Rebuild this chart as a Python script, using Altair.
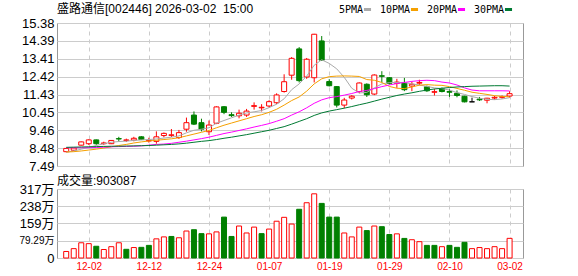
import altair as alt
import pandas as pd

# ---------------- data ----------------
dates = ["11-27", "11-28", "12-01", "12-02", "12-03", "12-04", "12-05", "12-08", "12-09", "12-10",
         "12-11", "12-12", "12-15", "12-16", "12-17", "12-18", "12-19", "12-22", "12-23", "12-24",
         "12-25", "12-26", "12-29", "12-30", "12-31", "01-05", "01-06", "01-07", "01-08", "01-09",
         "01-12", "01-13", "01-14", "01-15", "01-16", "01-19", "01-20", "01-21", "01-22", "01-23",
         "01-26", "01-27", "01-28", "01-29", "01-30", "02-02", "02-03", "02-04", "02-05", "02-06",
         "02-09", "02-10", "02-11", "02-12", "02-13", "02-24", "02-25", "02-26", "02-27", "03-02"]

opens = [8.28, 8.36, 8.64, 8.72, 8.93, 8.72, 8.72, 9.00, 8.90, 8.92,
         9.10, 8.87, 8.85, 9.17, 9.18, 9.06, 9.52, 10.30, 9.88, 9.38,
         9.85, 10.76, 10.32, 10.26, 10.30, 10.78, 10.70, 10.80, 10.98, 11.60,
         12.50, 13.95, 12.40, 12.36, 14.39, 12.15, 11.87, 10.85, 11.24, 11.60,
         12.00, 11.46, 12.47, 12.36, 12.05, 12.06, 11.90, 12.06, 11.86, 11.56,
         11.75, 11.60, 11.50, 11.34, 11.03, 11.18, 11.12, 11.24, 11.28, 11.35]
highs = [8.48, 8.50, 8.84, 8.96, 8.95, 8.83, 8.92, 9.10, 9.00, 9.10,
         9.14, 9.05, 9.40, 9.34, 9.53, 9.48, 10.16, 10.50, 10.10, 10.00,
         10.78, 10.80, 10.45, 10.60, 10.64, 11.00, 10.90, 11.12, 11.50, 12.55,
         13.50, 14.05, 13.45, 14.78, 14.66, 12.28, 11.90, 11.25, 11.40, 12.10,
         12.05, 12.55, 12.72, 12.40, 12.30, 12.35, 12.15, 12.25, 11.93, 11.75,
         11.82, 11.73, 11.66, 11.36, 11.26, 11.30, 11.25, 11.35, 11.38, 11.62]
lows = [8.25, 8.32, 8.62, 8.65, 8.66, 8.66, 8.70, 8.84, 8.82, 8.85,
        8.92, 8.78, 8.72, 9.07, 9.09, 8.98, 9.38, 9.75, 9.40, 9.20,
        9.80, 10.35, 10.20, 10.12, 10.20, 10.60, 10.50, 10.72, 10.90, 11.54,
        12.25, 12.10, 12.30, 12.10, 13.30, 11.88, 10.72, 10.68, 11.16, 11.50,
        11.30, 11.40, 12.10, 11.98, 11.80, 11.62, 11.62, 11.95, 11.58, 11.38,
        11.55, 11.30, 11.28, 11.00, 11.03, 11.08, 10.95, 11.15, 11.20, 11.26]
closes = [8.46, 8.48, 8.82, 8.93, 8.72, 8.76, 8.90, 8.98, 8.93, 9.02,
          8.95, 8.90, 9.10, 9.29, 9.21, 9.33, 9.88, 9.80, 9.52, 9.75,
          10.75, 10.45, 10.27, 10.40, 10.52, 10.82, 10.73, 11.04, 11.41, 12.14,
          13.43, 12.20, 13.38, 14.76, 13.33, 11.92, 10.85, 11.13, 11.34, 12.07,
          11.42, 12.51, 12.44, 12.05, 12.12, 11.70, 12.00, 12.10, 11.64, 11.59,
          11.60, 11.56, 11.38, 11.03, 11.03, 11.14, 11.23, 11.28, 11.31, 11.48]

# volume in 万
volumes = [30, 43, 70, 66, 54, 39, 52, 70, 40, 48,
           49, 58, 88, 97, 99, 93, 124, 130, 112, 111,
           120, 188, 99, 147, 115, 142, 112, 133, 169, 187,
           156, 224, 254, 295, 251, 188, 188, 115, 97, 142,
           126, 147, 144, 108, 111, 90, 84, 75, 58, 58,
           52, 58, 49, 72, 43, 48, 43, 52, 43, 90.31]
vol_dir = ["up", "up", "up", "up", "down", "up", "up", "up", "down", "up",
           "down", "down", "up", "up", "down", "up", "up", "down", "down", "up",
           "up", "down", "down", "up", "up", "up", "down", "up", "up", "up",
           "up", "down", "up", "up", "down", "down", "down", "up", "up", "up",
           "down", "up", "down", "down", "up", "down", "up", "up", "down", "down",
           "up", "down", "down", "down", "up", "up", "up", "up", "up", "up"]

ma5 = [8.25, 8.32, 8.42, 8.52, 8.62, 8.72, 8.80, 8.84, 8.86, 8.90,
       8.93, 8.95, 8.98, 9.03, 9.08, 9.15, 9.32, 9.46, 9.52, 9.60,
       9.85, 10.00, 10.15, 10.30, 10.42, 10.48, 10.55, 10.71, 10.90, 11.20,
       11.70, 12.02, 12.45, 13.05, 13.35, 13.15, 12.85, 12.38, 11.78, 11.52,
       11.55, 11.80, 12.02, 12.09, 12.10, 12.10, 12.02, 11.96, 11.88, 11.80,
       11.76, 11.68, 11.54, 11.44, 11.32, 11.23, 11.17, 11.15, 11.19, 11.26]
ma10 = [8.26, 8.28, 8.32, 8.37, 8.42, 8.48, 8.55, 8.62, 8.68, 8.76,
        8.82, 8.87, 8.91, 8.95, 8.99, 9.05, 9.15, 9.25, 9.35, 9.45,
        9.60, 9.74, 9.86, 9.98, 10.10, 10.22, 10.32, 10.45, 10.62, 10.85,
        11.10, 11.30, 11.62, 12.02, 12.30, 12.42, 12.45, 12.46, 12.45, 12.43,
        12.26, 12.22, 12.10, 11.88, 11.78, 11.76, 11.85, 11.95, 11.98, 11.95,
        11.94, 11.87, 11.77, 11.67, 11.56, 11.50, 11.44, 11.37, 11.33, 11.31]
ma20 = [8.50, 8.50, 8.50, 8.50, 8.51, 8.53, 8.55, 8.56, 8.57, 8.58,
        8.60, 8.64, 8.68, 8.70, 8.74, 8.80, 8.86, 8.93, 9.00, 9.08,
        9.18, 9.28, 9.36, 9.45, 9.54, 9.64, 9.73, 9.83, 9.96, 10.10,
        10.30, 10.48, 10.70, 10.95, 11.14, 11.26, 11.32, 11.40, 11.49, 11.60,
        11.66, 11.76, 11.87, 11.96, 12.04, 12.10, 12.16, 12.20, 12.22, 12.20,
        12.12, 12.07, 11.96, 11.80, 11.68, 11.64, 11.64, 11.64, 11.64, 11.63]
ma30 = [8.52, 8.53, 8.54, 8.55, 8.56, 8.57, 8.58, 8.58, 8.59, 8.60,
        8.61, 8.62, 8.64, 8.66, 8.68, 8.71, 8.75, 8.80, 8.85, 8.89,
        8.95, 9.02, 9.08, 9.15, 9.22, 9.30, 9.38, 9.46, 9.56, 9.66,
        9.80, 9.95, 10.10, 10.28, 10.42, 10.52, 10.60, 10.68, 10.77, 10.87,
        10.96, 11.07, 11.18, 11.28, 11.38, 11.46, 11.53, 11.61, 11.68, 11.74,
        11.78, 11.82, 11.85, 11.87, 11.89, 11.90, 11.91, 11.92, 11.92, 11.90]

ma_names = ["5PMA", "10PMA", "20PMA", "30PMA"]
ma_colors = ["#aaaaaa", "#f5a000", "#ff00ff", "#007a33"]

price_ticks = [7.49, 8.48, 9.46, 10.45, 11.43, 12.42, 13.41, 14.39, 15.38]
vol_ticks = [0, 79.29, 159, 238, 317]
label_dates = ["12-02", "12-12", "12-24", "01-07", "01-19", "01-29", "02-10", "03-02"]

title_text = "盛路通信[002446]\u00a02026-03-02\u00a0\u00a015:00"
vol_title = "成交量:903087"

# ---------------- styling ----------------
RED = "#ff0000"
GREEN = "#008000"
GRID = "#cccccc"
FONT = "Liberation Sans, Noto Sans CJK SC, sans-serif"
W, PH, VH = 466, 143, 69

n = len(dates)
kdf = pd.DataFrame({"idx": list(range(n)), "date": dates, "open": opens, "high": highs,
                    "low": lows, "close": closes, "vol": volumes, "vdir": vol_dir})
ma_df = pd.concat([pd.DataFrame({"idx": list(range(n)), "ma": vals, "series": name})
                   for name, vals in zip(ma_names, [ma5, ma10, ma20, ma30])], ignore_index=True)

tick_idx = [dates.index(d) for d in label_dates]
date_js = "[" + ",".join("'%s'" % d for d in dates) + "]"

xscale = alt.Scale(domain=[-0.56, n + 0.12], nice=False, zero=False)
pscale = alt.Scale(domain=[price_ticks[0], price_ticks[-1]], nice=False, zero=False)
dir_domain = ["up", "down", "flat"]
stroke_scale = alt.Scale(domain=dir_domain, range=[RED, GREEN, "#000000"])
fill_scale = alt.Scale(domain=dir_domain, range=["#ffffff", GREEN, "#000000"])

x_price = alt.X("idx:Q", scale=xscale,
                axis=alt.Axis(values=tick_idx, labels=False, ticks=False, domain=False,
                              grid=True, gridDash=[4, 4], gridColor=GRID, title=None))


def y_price(field):
    return alt.Y(field, scale=pscale,
                 axis=alt.Axis(values=price_ticks, format=".2f", title=None, ticks=False,
                               domain=False, grid=True, gridColor=GRID, labelFontSize=13,
                               labelPadding=3, labelColor="#000000"))


base = alt.Chart(kdf).transform_calculate(
    dir="datum.close > datum.open ? 'up' : (datum.close < datum.open ? 'down' : 'flat')"
)

wick = base.mark_rule(strokeWidth=1).encode(
    x=x_price, y=y_price("low:Q"), y2="high:Q",
    stroke=alt.Stroke("dir:N", scale=stroke_scale, legend=None),
)
body = base.mark_bar(size=5, strokeWidth=1).encode(
    x=x_price, y=y_price("open:Q"), y2="close:Q",
    fill=alt.Fill("dir:N", scale=fill_scale, legend=None),
    stroke=alt.Stroke("dir:N", scale=stroke_scale, legend=None),
)
lines = alt.Chart(ma_df).mark_line(strokeWidth=1).encode(
    x=x_price, y=y_price("ma:Q"),
    color=alt.Color("series:N", sort=ma_names,
                    scale=alt.Scale(domain=ma_names, range=ma_colors),
                    legend=alt.Legend(orient="none", legendX=305, legendY=-19,
                                      direction="horizontal", title=None,
                                      symbolType="stroke", symbolStrokeWidth=3,
                                      symbolSize=50, labelFont="DejaVu Sans Mono",
                                      labelFontSize=10, labelColor="#000000",
                                      labelAlign="right", labelOffset={"expr": "-10"},
                                      gridAlign="none", columnPadding=1)),
)

price = alt.layer(wick, body, lines).properties(
    width=W, height=PH,
    title=alt.TitleParams(title_text, anchor="start", frame="group", fontSize=12,
                          font=FONT, fontWeight="normal", color="#000000", offset=-12),
)

vol = alt.Chart(kdf).mark_bar(size=5, strokeWidth=1).encode(
    x=alt.X("idx:Q", scale=xscale,
            axis=alt.Axis(values=tick_idx, labelExpr=date_js + "[datum.value]", ticks=False,
                          domain=False, grid=True, gridDash=[4, 4], gridColor=GRID,
                          labelColor=RED, labelFontSize=10, labelPadding=3, title=None)),
    y=alt.Y("vol:Q", scale=alt.Scale(domain=[0, 317.16], nice=False),
            axis=alt.Axis(values=vol_ticks,
                          labelExpr="datum.value == 0 ? '0' : format(datum.value, '~g') + '万'",
                          labelFontSize={"condition": {"test": "datum.value > 0 && datum.value < 100",
                                                       "value": 10}, "value": 13},
                          title=None, ticks=False, domain=False, grid=True, gridColor=GRID,
                          labelPadding=3, labelColor="#000000")),
    fill=alt.Fill("vdir:N", scale=fill_scale, legend=None),
    stroke=alt.Stroke("vdir:N", scale=stroke_scale, legend=None),
).properties(
    width=W, height=VH,
    title=alt.TitleParams(vol_title, anchor="start", frame="group", fontSize=12,
                          font=FONT, fontWeight="normal", color="#000000", offset=-4.5),
)

chart = alt.vconcat(price, vol, spacing=0).resolve_scale(
    color="independent"
).configure_view(stroke="#999999").configure_axis(
    labelFont=FONT
).configure_title(font=FONT).properties(
    padding={"left": 18, "top": 2, "right": 0, "bottom": 0}
)

chart.save("out.html", embed_options={"renderer": "svg", "actions": False})
